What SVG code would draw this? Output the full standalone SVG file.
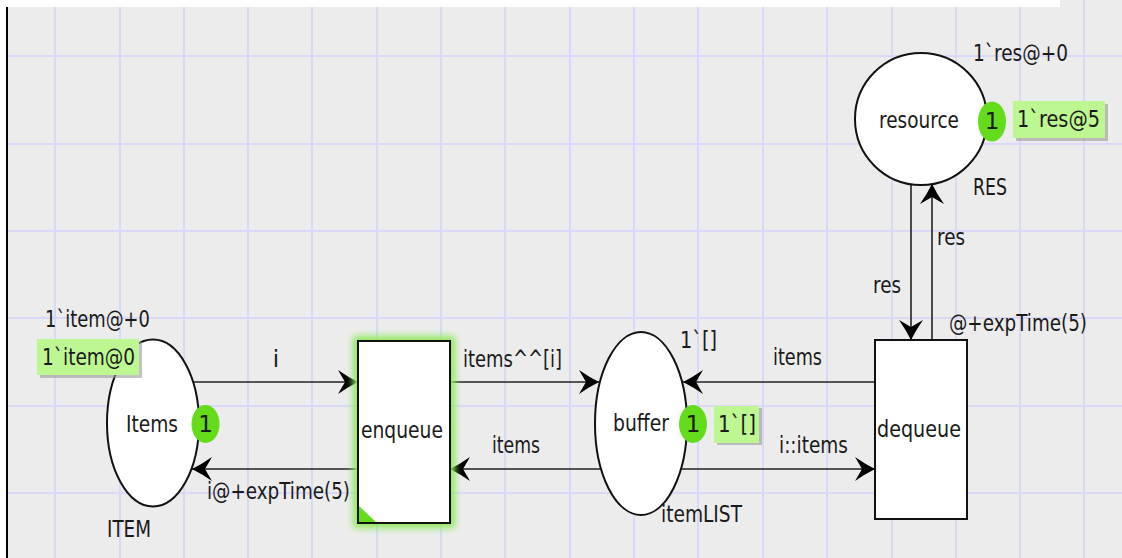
<svg xmlns="http://www.w3.org/2000/svg" width="1122" height="558" viewBox="0 0 1122 558">
<style>
text{font-family:"DejaVu Sans","Liberation Sans",sans-serif;font-size:23px;fill:#1a1a1a;}
.grid line{stroke:#d9d9f7;stroke-width:2;}
.place{fill:#fff;stroke:#111;stroke-width:2;}
.trans{fill:#fff;stroke:#111;stroke-width:2;}
.arc{stroke:#222;stroke-width:1.6;fill:none;marker-end:url(#ah);}
.tok{fill:#64dc1c;}
.mark{fill:#bdf792;}
.shadow{fill:#9a9a9a;opacity:0.6;}
</style>
<defs>
<marker id="ah" markerUnits="userSpaceOnUse" markerWidth="26" markerHeight="28" refX="22" refY="13" orient="auto">
<path d="M22,13 Q12,8 2,1 L9,13 L2,25 Q12,18 22,13Z" fill="#000"/>
</marker>
<filter id="glow" x="-30%" y="-30%" width="160%" height="160%">
<feGaussianBlur stdDeviation="3.5"/>
</filter>
</defs>
<rect x="0" y="0" width="1122" height="558" fill="#fff"/>
<rect x="8" y="7" width="1114" height="551" fill="#ececec"/>
<rect x="1060" y="0" width="62" height="7" fill="#ececec"/>
<g class="grid">
<line x1="8" y1="56" x2="1122" y2="56"/>
<line x1="8" y1="144" x2="1122" y2="144"/>
<line x1="8" y1="231" x2="1122" y2="231"/>
<line x1="8" y1="318" x2="1122" y2="318"/>
<line x1="8" y1="406" x2="1122" y2="406"/>
<line x1="8" y1="493" x2="1122" y2="493"/>
<line x1="55" y1="7" x2="55" y2="558"/>
<line x1="120" y1="7" x2="120" y2="558"/>
<line x1="184" y1="7" x2="184" y2="558"/>
<line x1="248" y1="7" x2="248" y2="558"/>
<line x1="312" y1="7" x2="312" y2="558"/>
<line x1="377" y1="7" x2="377" y2="558"/>
<line x1="441" y1="7" x2="441" y2="558"/>
<line x1="505" y1="7" x2="505" y2="558"/>
<line x1="570" y1="7" x2="570" y2="558"/>
<line x1="634" y1="7" x2="634" y2="558"/>
<line x1="698" y1="7" x2="698" y2="558"/>
<line x1="763" y1="7" x2="763" y2="558"/>
<line x1="827" y1="7" x2="827" y2="558"/>
<line x1="892" y1="7" x2="892" y2="558"/>
<line x1="956" y1="7" x2="956" y2="558"/>
<line x1="1020" y1="7" x2="1020" y2="558"/>
<line x1="1084" y1="0" x2="1084" y2="558"/>
</g>
<line x1="7" y1="7" x2="7" y2="558" stroke="#000" stroke-width="2"/>

<g id="connectors">
<line class="arc" x1="193" y1="382" x2="358" y2="382"/>
<line class="arc" x1="358" y1="469" x2="192" y2="469"/>
<line class="arc" x1="450" y1="382" x2="599" y2="382"/>
<line class="arc" x1="600" y1="469" x2="450" y2="469"/>
<line class="arc" x1="875" y1="382" x2="683" y2="382"/>
<line class="arc" x1="682" y1="469" x2="875" y2="469"/>
<line class="arc" x1="911" y1="184" x2="911" y2="340"/>
<line class="arc" x1="932" y1="340" x2="932" y2="184"/>
<text x="276" y="367" text-anchor="middle">i</text>
<text x="207" y="499" textLength="143" lengthAdjust="spacingAndGlyphs">i@+expTime(5)</text>
<text x="463" y="367" textLength="99" lengthAdjust="spacingAndGlyphs">items^^[i]</text>
<text x="492" y="453" textLength="48" lengthAdjust="spacingAndGlyphs">items</text>
<text x="773" y="365" textLength="49" lengthAdjust="spacingAndGlyphs">items</text>
<text x="779" y="453" textLength="69" lengthAdjust="spacingAndGlyphs">i::items</text>
<text x="873" y="293" textLength="28" lengthAdjust="spacingAndGlyphs">res</text>
<text x="937" y="245" textLength="28" lengthAdjust="spacingAndGlyphs">res</text>
<text x="949" y="331" textLength="138" lengthAdjust="spacingAndGlyphs">@+expTime(5)</text>
</g>

<g id="Items">
<ellipse class="place" cx="153" cy="423" rx="46" ry="83.5"/>
<text x="126" y="432" textLength="52" lengthAdjust="spacingAndGlyphs">Items</text>
<text x="45" y="327" textLength="105" lengthAdjust="spacingAndGlyphs">1`item@+0</text>
<text x="107" y="537" textLength="44" lengthAdjust="spacingAndGlyphs">ITEM</text>
<ellipse class="tok" cx="205.5" cy="424" rx="14" ry="19"/>
<text x="205.5" y="432" text-anchor="middle">1</text>
<rect class="shadow" x="40" y="342" width="102" height="36"/>
<rect class="mark" x="37" y="339" width="102" height="36"/>
<text x="42" y="365" textLength="93" lengthAdjust="spacingAndGlyphs">1`item@0</text>
</g>

<g id="enqueue">
<rect x="353" y="336" width="102" height="192" fill="#8fe85a" filter="url(#glow)"/>
<rect class="trans" x="358" y="341" width="92" height="182"/>
<path d="M359,506 L359,522 L376,522Z" fill="#64dc1c"/>
<text x="361" y="438" textLength="82" lengthAdjust="spacingAndGlyphs">enqueue</text>
</g>

<g id="buffer">
<ellipse class="place" cx="641" cy="423.5" rx="46" ry="91.5"/>
<text x="613" y="431" textLength="56" lengthAdjust="spacingAndGlyphs">buffer</text>
<text x="680" y="348" textLength="37" lengthAdjust="spacingAndGlyphs">1`[]</text>
<text x="661" y="522" textLength="81" lengthAdjust="spacingAndGlyphs">itemLIST</text>
<ellipse class="tok" cx="693" cy="424" rx="14" ry="19"/>
<text x="693" y="432" text-anchor="middle">1</text>
<rect class="shadow" x="717" y="408" width="45" height="37"/>
<rect class="mark" x="714" y="406" width="45" height="37"/>
<text x="718" y="432" textLength="38" lengthAdjust="spacingAndGlyphs">1`[]</text>
</g>

<g id="dequeue">
<rect class="trans" x="875" y="340" width="92" height="179"/>
<text x="877" y="437" textLength="84" lengthAdjust="spacingAndGlyphs">dequeue</text>
</g>

<g id="resource">
<circle class="place" cx="921" cy="119" r="66"/>
<text x="879" y="128" textLength="80" lengthAdjust="spacingAndGlyphs">resource</text>
<text x="973" y="61" textLength="95" lengthAdjust="spacingAndGlyphs">1`res@+0</text>
<text x="973" y="195" textLength="34" lengthAdjust="spacingAndGlyphs">RES</text>
<ellipse class="tok" cx="992" cy="121.5" rx="14" ry="20"/>
<text x="992" y="129" text-anchor="middle">1</text>
<rect class="shadow" x="1016" y="104" width="92" height="37"/>
<rect class="mark" x="1013" y="101" width="92" height="37"/>
<text x="1017" y="127" textLength="83" lengthAdjust="spacingAndGlyphs">1`res@5</text>
</g>
</svg>
